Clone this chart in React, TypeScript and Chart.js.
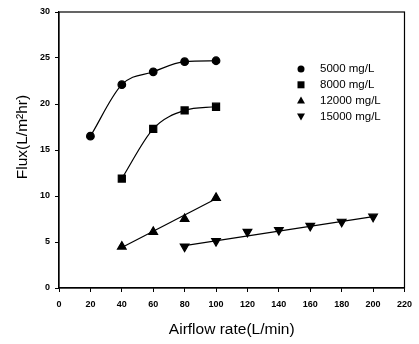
import React, { useEffect, useRef } from "react";
import { Chart, registerables } from "chart.js";

Chart.register(...registerables);

const airflow5000 = [20, 40, 60, 80, 100];
const flux5000 = [16.5, 22.1, 23.5, 24.6, 24.7];
const airflow8000 = [40, 60, 80, 100];
const flux8000 = [11.9, 17.3, 19.3, 19.7];
const airflow12000 = [40, 60, 80, 100];
const flux12000 = [4.5, 6.1, 7.5, 9.8];
const fitX12000 = [40, 100];
const fitY12000 = [4.4, 9.7];
const airflow15000 = [80, 100, 120, 140, 160, 180, 200];
const flux15000 = [4.5, 5.1, 6.1, 6.3, 6.75, 7.2, 7.75];
const fitX15000 = [80, 200];
const fitY15000 = [4.6, 7.75];
const seriesLabels = ["5000 mg/L", "8000 mg/L", "12000 mg/L", "15000 mg/L"];
const xTitle = "Airflow rate(L/min)";
const yTitle = "Flux(L/m\u00B2hr)";

const pts = (xs: number[], ys: number[]) => xs.map((x, i) => ({ x, y: ys[i] }));

function drawMarker(ctx: CanvasRenderingContext2D, kind: number, x: number, y: number) {
  ctx.beginPath();
  if (kind === 0) {
    ctx.arc(x, y, 3.5, 0, Math.PI * 2);
  } else if (kind === 1) {
    ctx.rect(x - 3.5, y - 3.5, 7, 7);
  } else if (kind === 2) {
    ctx.moveTo(x, y - 4);
    ctx.lineTo(x + 4, y + 3);
    ctx.lineTo(x - 4, y + 3);
    ctx.closePath();
  } else {
    ctx.moveTo(x, y + 4);
    ctx.lineTo(x + 4, y - 3);
    ctx.lineTo(x - 4, y - 3);
    ctx.closePath();
  }
  ctx.fill();
}

const decor = {
  id: "decor",
  afterDraw(chart: any) {
    const { ctx, chartArea } = chart;
    ctx.save();
    ctx.strokeStyle = "#000";
    ctx.lineWidth = 1.2;
    ctx.strokeRect(chartArea.left, chartArea.top, chartArea.right - chartArea.left, chartArea.bottom - chartArea.top);
    // legend
    ctx.fillStyle = "#000";
    ctx.font = "11.5px 'Liberation Sans', Arial, sans-serif";
    ctx.textBaseline = "middle";
    ctx.textAlign = "left";
    const lx = chartArea.left + 242;
    const ly0 = chartArea.top + 57;
    seriesLabels.forEach((lab, i) => {
      const y = ly0 + i * 15.8;
      drawMarker(ctx, i, lx, y);
      ctx.fillText(lab, lx + 19, y);
    });
    // axis titles
    ctx.font = "15.5px 'Liberation Sans', Arial, sans-serif";
    ctx.textAlign = "center";
    ctx.fillText(xTitle, (chartArea.left + chartArea.right) / 2, 330);
    ctx.save();
    ctx.translate(23, 137);
    ctx.rotate(-Math.PI / 2);
    ctx.fillText(yTitle, 0, 0);
    ctx.restore();
    ctx.restore();
  },
};

export default function App() {
  const ref = useRef<HTMLCanvasElement | null>(null);
  useEffect(() => {
    document.body.style.margin = "0";
    const canvas = ref.current!;
    const lineBase = { borderColor: "#000", backgroundColor: "#000", borderWidth: 1.2 };
    const chart = new Chart(canvas, {
      type: "scatter",
      data: {
        datasets: [
          { ...lineBase, data: pts(airflow5000, flux5000), showLine: true, cubicInterpolationMode: "monotone", pointStyle: "circle", pointRadius: 3.8 } as any,
          { ...lineBase, data: pts(airflow8000, flux8000), showLine: true, cubicInterpolationMode: "monotone", pointStyle: "rect", pointRadius: 5 } as any,
          { ...lineBase, data: pts(airflow12000, flux12000), showLine: false, pointStyle: "triangle", pointRadius: 5 } as any,
          { ...lineBase, data: pts(fitX12000, fitY12000), showLine: true, pointRadius: 0 } as any,
          { ...lineBase, data: pts(airflow15000, flux15000), showLine: false, pointStyle: "triangle", pointRotation: 180, pointRadius: 5 } as any,
          { ...lineBase, data: pts(fitX15000, fitY15000), showLine: true, pointRadius: 0 } as any,
        ],
      },
      options: {
        animation: false,
        responsive: false,
        devicePixelRatio: 1,
        layout: { padding: { top: 12, right: 7, left: 0, bottom: 0 } },
        plugins: { legend: { display: false }, tooltip: { enabled: false } },
        scales: {
          x: {
            type: "linear",
            min: 0,
            max: 220,
            afterFit: (s: any) => { s.height = 56; },
            ticks: { stepSize: 20, color: "#000", padding: 7, maxRotation: 0, font: { family: "'Liberation Sans', Arial", size: 9, weight: "bold" } },
            grid: { display: true, drawOnChartArea: false, drawTicks: true, tickLength: 4, color: "#000" },
            border: { display: true, color: "#000", width: 1.2 },
          },
          y: {
            type: "linear",
            min: 0,
            max: 30,
            afterFit: (s: any) => { s.width = 59; },
            ticks: { stepSize: 5, color: "#000", padding: 5, font: { family: "'Liberation Sans', Arial", size: 9, weight: "bold" } },
            grid: { display: true, drawOnChartArea: false, drawTicks: true, tickLength: 4, color: "#000" },
            border: { display: true, color: "#000", width: 1.2 },
          },
        },
      } as any,
      plugins: [decor],
    });
    return () => chart.destroy();
  }, []);
  return (
    <div style={{ width: 419, height: 344, background: "#fff" }}>
      <canvas ref={ref} width={419} height={344} />
    </div>
  );
}
